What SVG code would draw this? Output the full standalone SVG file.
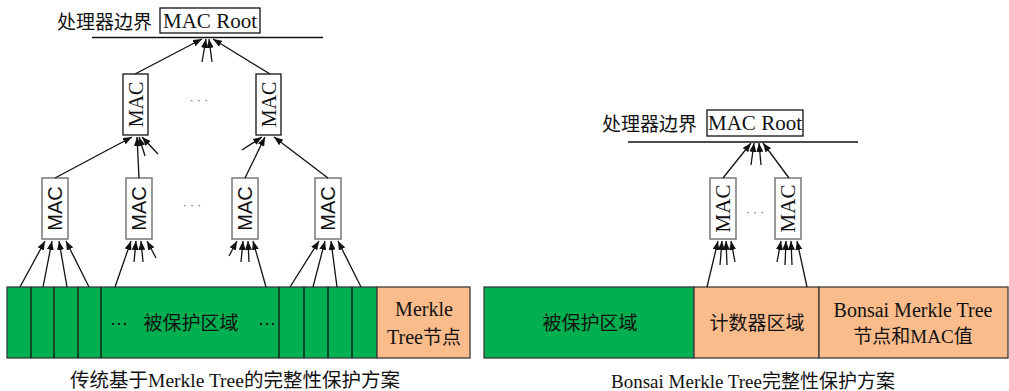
<svg xmlns="http://www.w3.org/2000/svg" width="1009" height="391" viewBox="0 0 1009 391">
<style>
.t{font-family:"Liberation Serif","Noto Sans CJK SC",serif;fill:#111}
.cj{font-family:"Noto Sans CJK SC","Liberation Serif",sans-serif;fill:#111}
.box{fill:#fff;stroke:#111;stroke-width:1.3}
.box2{fill:#fff;stroke:#777;stroke-width:1.5}
.ln{stroke:#111;stroke-width:1.3;fill:none;marker-end:url(#ah)}
.rule{stroke:#111;stroke-width:1.3}
.g{fill:#00b050;stroke:#3a3a3a;stroke-width:1.3}
.o{fill:#fbbc8c;stroke:#3a3a3a;stroke-width:1.3}
.dots{fill:#666;font-family:"Liberation Sans",sans-serif;font-size:12px}
</style>
<defs>
<marker id="ah" markerUnits="userSpaceOnUse" markerWidth="9" markerHeight="7" refX="9" refY="3.5" orient="auto">
<path d="M0,0 L9,3.5 L0,7 z" fill="#111"/>
</marker>
</defs>
<rect width="1009" height="391" fill="#fff"/>

<!-- LEFT -->
<g id="left-boundary">
<text class="cj" x="57" y="29" font-size="19">处理器边界</text>
<line class="rule" x1="92" y1="37.5" x2="323" y2="37.5"/>
</g>
<g id="left-root">
<rect class="box" x="160" y="8" width="100" height="25"/>
<text class="t" x="210" y="28" font-size="21" text-anchor="middle">MAC Root</text>
</g>
<g id="l2a"><rect class="box" x="123" y="74" width="25" height="61"/>
<text class="t" font-size="20" text-anchor="middle" dominant-baseline="central" transform="translate(135.5,104.5) rotate(-90)">MAC</text></g>
<g id="l2b"><rect class="box" x="256" y="74" width="25" height="61"/>
<text class="t" font-size="20" text-anchor="middle" dominant-baseline="central" transform="translate(268.5,104.5) rotate(-90)">MAC</text></g>
<text class="dots" x="199" y="104" text-anchor="middle">· · ·</text>

<g id="l3a"><rect class="box2" x="42" y="178" width="26" height="61"/>
<text font-family="Liberation Sans,sans-serif" fill="#111" font-size="20" text-anchor="middle" dominant-baseline="central" transform="translate(55,208.5) rotate(-90)">MAC</text></g>
<g id="l3b"><rect class="box2" x="126" y="178" width="26" height="61"/>
<text font-family="Liberation Sans,sans-serif" fill="#111" font-size="20" text-anchor="middle" dominant-baseline="central" transform="translate(139,208.5) rotate(-90)">MAC</text></g>
<g id="l3c"><rect class="box2" x="232" y="178" width="26" height="61"/>
<text font-family="Liberation Sans,sans-serif" fill="#111" font-size="20" text-anchor="middle" dominant-baseline="central" transform="translate(245,208.5) rotate(-90)">MAC</text></g>
<g id="l3d"><rect class="box2" x="315" y="178" width="26" height="61"/>
<text font-family="Liberation Sans,sans-serif" fill="#111" font-size="20" text-anchor="middle" dominant-baseline="central" transform="translate(328,208.5) rotate(-90)">MAC</text></g>
<text class="dots" x="192" y="209" text-anchor="middle">· · ·</text>

<g id="left-bar">
<rect class="g" x="7" y="287" width="370" height="71"/>
<line class="rule" x1="31" y1="287" x2="31" y2="358" stroke="#3a3a3a"/>
<line class="rule" x1="54" y1="287" x2="54" y2="358" stroke="#3a3a3a"/>
<line class="rule" x1="78" y1="287" x2="78" y2="358" stroke="#3a3a3a"/>
<line class="rule" x1="101" y1="287" x2="101" y2="358" stroke="#3a3a3a"/>
<line class="rule" x1="279" y1="287" x2="279" y2="358" stroke="#3a3a3a"/>
<line class="rule" x1="304" y1="287" x2="304" y2="358" stroke="#3a3a3a"/>
<line class="rule" x1="328" y1="287" x2="328" y2="358" stroke="#3a3a3a"/>
<line class="rule" x1="352" y1="287" x2="352" y2="358" stroke="#3a3a3a"/>
<text class="t" x="119" y="330" font-size="18" text-anchor="middle">···</text>
<text class="cj" x="191" y="330" font-size="19" text-anchor="middle">被保护区域</text>
<text class="t" x="267" y="330" font-size="18" text-anchor="middle">···</text>
</g>
<g id="left-merkle">
<rect class="o" x="377" y="287" width="93" height="71"/>
<text class="t" x="424" y="316" font-size="20" text-anchor="middle">Merkle</text>
<text class="t" x="424" y="344" font-size="20" text-anchor="middle">Tree<tspan class="cj" font-size="19">节点</tspan></text>
</g>
<text class="t" x="235" y="387" font-size="19.5" text-anchor="middle" fill="#333">传统基于Merkle Tree的完整性保护方案</text>

<g id="left-connectors">
<line class="ln" x1="135" y1="74" x2="202" y2="39"/>
<line class="ln" x1="270" y1="74" x2="213" y2="39"/>
<line class="ln" x1="202" y1="62" x2="206" y2="39"/>
<line class="ln" x1="212" y1="62" x2="209" y2="39"/>
<line class="ln" x1="55" y1="178" x2="132" y2="137"/>
<line class="ln" x1="139" y1="178" x2="137" y2="137"/>
<line class="ln" x1="145" y1="156" x2="139" y2="137"/>
<line class="ln" x1="158" y1="154" x2="142" y2="137"/>
<line class="ln" x1="245" y1="178" x2="265" y2="137"/>
<line class="ln" x1="328" y1="178" x2="274" y2="137"/>
<line class="ln" x1="242" y1="150" x2="262" y2="137"/>
<line class="ln" x1="20" y1="287" x2="45" y2="241"/>
<line class="ln" x1="43" y1="287" x2="52" y2="241"/>
<line class="ln" x1="67" y1="287" x2="59" y2="241"/>
<line class="ln" x1="89" y1="287" x2="66" y2="241"/>
<line class="ln" x1="115" y1="287" x2="131" y2="241"/>
<line class="ln" x1="134" y1="262" x2="136" y2="241"/>
<line class="ln" x1="143" y1="262" x2="141" y2="241"/>
<line class="ln" x1="156" y1="258" x2="147" y2="241"/>
<line class="ln" x1="266" y1="287" x2="253" y2="241"/>
<line class="ln" x1="229" y1="256" x2="237" y2="241"/>
<line class="ln" x1="241" y1="262" x2="243" y2="241"/>
<line class="ln" x1="249" y1="262" x2="248" y2="241"/>
<line class="ln" x1="290" y1="287" x2="319" y2="241"/>
<line class="ln" x1="313" y1="287" x2="325" y2="241"/>
<line class="ln" x1="337" y1="287" x2="331" y2="241"/>
<line class="ln" x1="361" y1="287" x2="338" y2="241"/>
</g>

<!-- RIGHT -->
<g id="right-boundary">
<text class="cj" x="602" y="131" font-size="19">处理器边界</text>
<line class="rule" x1="628" y1="142" x2="858" y2="142"/>
</g>
<g id="right-root">
<rect class="box" x="707" y="110" width="96" height="26"/>
<text class="t" x="755" y="130" font-size="21" text-anchor="middle">MAC Root</text>
</g>
<g id="r1"><rect class="box2" x="710" y="178" width="26" height="61"/>
<text class="t" font-size="21" text-anchor="middle" dominant-baseline="central" transform="translate(723,208.5) rotate(-90)">MAC</text></g>
<g id="r2"><rect class="box2" x="775" y="178" width="26" height="61"/>
<text class="t" font-size="21" text-anchor="middle" dominant-baseline="central" transform="translate(788,208.5) rotate(-90)">MAC</text></g>
<text class="dots" x="755" y="216" text-anchor="middle">· · ·</text>

<g id="right-protected">
<rect class="g" x="484" y="287" width="210" height="71"/>
<text class="cj" x="590" y="330" font-size="19" text-anchor="middle">被保护区域</text>
</g>
<g id="right-counter">
<rect class="o" x="694" y="287" width="125" height="71"/>
<text class="cj" x="757" y="330" font-size="19" text-anchor="middle">计数器区域</text>
</g>
<g id="right-bonsai">
<rect class="o" x="819" y="287" width="189" height="71"/>
<text class="t" x="913" y="317" font-size="20" text-anchor="middle">Bonsai Merkle Tree</text>
<text class="t" x="913" y="343" font-size="19" text-anchor="middle"><tspan class="cj">节点和</tspan>MAC<tspan class="cj">值</tspan></text>
</g>
<text class="t" x="753" y="388" font-size="19" text-anchor="middle" fill="#333">Bonsai Merkle Tree完整性保护方案</text>

<g id="right-connectors">
<line class="ln" x1="723" y1="178" x2="751" y2="143"/>
<line class="ln" x1="789" y1="178" x2="763" y2="143"/>
<line class="ln" x1="751" y1="165" x2="754" y2="143"/>
<line class="ln" x1="761" y1="165" x2="759" y2="143"/>
<line class="ln" x1="707" y1="287" x2="718" y2="241"/>
<line class="ln" x1="720" y1="265" x2="722" y2="241"/>
<line class="ln" x1="727" y1="265" x2="726" y2="241"/>
<line class="ln" x1="735" y1="262" x2="731" y2="241"/>
<line class="ln" x1="807" y1="287" x2="797" y2="241"/>
<line class="ln" x1="777" y1="262" x2="781" y2="241"/>
<line class="ln" x1="785" y1="265" x2="786" y2="241"/>
<line class="ln" x1="792" y1="265" x2="791" y2="241"/>
</g>
</svg>
